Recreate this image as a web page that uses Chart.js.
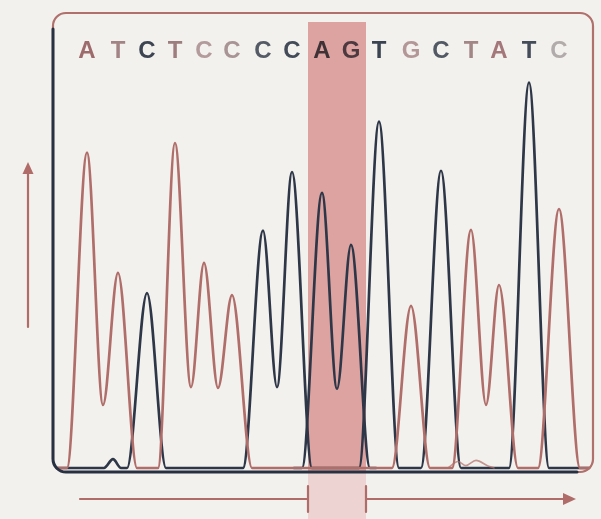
<!DOCTYPE html>
<html>
<head>
<meta charset="utf-8">
<script src="https://cdn.jsdelivr.net/npm/chart.js@4.4.1/dist/chart.umd.min.js"></script>
<style>
  html, body { margin: 0; padding: 0; background: #f3f1ed; }
  canvas { display: block; }
</style>
</head>
<body>
<canvas id="trace" width="601" height="519"></canvas>
<script>
// Called bases and where each peak sits on the scan axis
const bases = ["A", "T", "C", "T", "C", "C", "C", "C", "A", "G", "T", "G", "C", "T", "A", "T", "C"];
const peakScan = [87, 118, 147, 175, 204, 232, 263, 292, 322, 351, 379, 411, 441, 471, 499, 529, 559];
const baseColors = [
  "#9e6b6d", "#a38485", "#3d4553", "#9d7d7d", "#b39b9c", "#a99495", "#555b66", "#434b59",
  "#3e3236", "#4d3a40", "#3a4352", "#b39797", "#525964", "#a28585", "#a4777a", "#444c5a", "#b2abab",
];

// Highlighted region (scan positions)
const highlight = [308, 366];

// Signal traces: [scan, intensity]
const redTrace = [
  [57, 0], [67, 0], [87, 78.4], [103, 15.7], [118, 48.5], [137, 0],
  [158, 0], [175, 80.8], [191, 20.1], [204, 51.0], [218, 19.9], [232, 43.0], [252, 0],
  [392, 0], [411, 40.3], [430, 0],
  [452, 0], [471, 59.2], [486, 15.7], [499, 45.5], [518, 0],
  [538, 0], [559, 64.4], [580, 0], [589, 0],
];
const navyTrace = [
  [57, 0], [104, 0], [113, 2.2], [121, 0], [127, 0], [147, 43.5], [166, 0],
  [243, 0], [263, 59.0], [277, 20.1], [292, 73.6], [312, 0],
  [359, 0], [379, 86.1], [399, 0],
  [421, 0], [441, 73.9], [461, 0],
  [509, 0], [529, 95.8], [549, 0], [589, 0],
];
const navyTrace2 = [
  [294, 0], [302, 0], [322, 68.4], [337, 19.7], [351, 55.5], [370, 0], [376, 0],
];
const noiseTrace = [
  [448, 0], [458, 1.6], [466, 0.6], [476, 1.9], [488, 0.5], [494, 0],
];

const RED = "#b06e6a";
const NAVY = "#2e3748";

const toPoints = (arr) => arr.map(([x, y]) => ({ x, y }));

const traceStyle = (color, width) => ({
  borderColor: color,
  borderWidth: width,
  pointRadius: 0,
  fill: false,
  cubicInterpolationMode: "monotone",
  borderJoinStyle: "round",
  borderCapStyle: "round",
  clip: false,
});

// background, highlight band, frame and arrows
const decor = {
  id: "decor",
  beforeDraw(chart) {
    const { ctx } = chart;
    const x = chart.scales.x;
    const b0 = x.getPixelForValue(highlight[0]);
    const b1 = x.getPixelForValue(highlight[1]);
    ctx.save();
    ctx.fillStyle = "#f3f1ed";
    ctx.fillRect(0, 0, chart.width, chart.height);
    ctx.fillStyle = "#dda3a0";
    ctx.fillRect(b0, 22, b1 - b0, 450);
    ctx.fillStyle = "#edd4d2";
    ctx.fillRect(b0, 472, b1 - b0, 47);
    ctx.restore();
  },
  afterDatasetsDraw(chart) {
    const { ctx } = chart;
    const x = chart.scales.x;
    const b0 = x.getPixelForValue(highlight[0]);
    const b1 = x.getPixelForValue(highlight[1]);
    const L = 53, T = 13, R = 593, B = 472, r = 13;
    ctx.save();
    ctx.lineCap = "round";
    ctx.lineJoin = "round";

    // frame: top/right in red-brown
    ctx.strokeStyle = "#b0706c";
    ctx.lineWidth = 2.2;
    ctx.beginPath();
    ctx.moveTo(L, B - r);
    ctx.lineTo(L, T + r);
    ctx.arcTo(L, T, L + r, T, r);
    ctx.lineTo(R - r, T);
    ctx.arcTo(R, T, R, T + r, r);
    ctx.lineTo(R, B - r);
    ctx.arcTo(R, B, R - r, B, r);
    ctx.lineTo(L + r, B);
    ctx.stroke();

    // left and bottom in navy
    ctx.strokeStyle = "#283142";
    ctx.lineWidth = 3;
    ctx.beginPath();
    ctx.moveTo(L, T + 16);
    ctx.lineTo(L, B - r);
    ctx.arcTo(L, B, L + r, B, r);
    ctx.lineTo(R - 16, B);
    ctx.stroke();

    // left arrow
    ctx.strokeStyle = "#b06c68";
    ctx.fillStyle = "#b06c68";
    ctx.lineWidth = 2.2;
    ctx.beginPath();
    ctx.moveTo(28, 327);
    ctx.lineTo(28, 172);
    ctx.stroke();
    ctx.beginPath();
    ctx.moveTo(28, 162);
    ctx.lineTo(22.5, 174);
    ctx.lineTo(33.5, 174);
    ctx.closePath();
    ctx.fill();

    // bottom arrow with bracket around highlight
    const ay = 499;
    ctx.beginPath();
    ctx.moveTo(80, ay);
    ctx.lineTo(b0, ay);
    ctx.moveTo(b0, ay - 13);
    ctx.lineTo(b0, ay + 13);
    ctx.moveTo(b1, ay - 13);
    ctx.lineTo(b1, ay + 13);
    ctx.moveTo(b1, ay);
    ctx.lineTo(566, ay);
    ctx.stroke();
    ctx.beginPath();
    ctx.moveTo(576, ay);
    ctx.lineTo(563, ay - 6);
    ctx.lineTo(563, ay + 6);
    ctx.closePath();
    ctx.fill();
    ctx.restore();
  },
};

new Chart(document.getElementById("trace"), {
  type: "line",
  data: {
    datasets: [
      { data: toPoints(noiseTrace), ...traceStyle("rgba(176,110,106,0.7)", 1.6) },
      { data: toPoints(redTrace), ...traceStyle(RED, 2.7) },
      { data: toPoints(navyTrace), ...traceStyle(NAVY, 2.7) },
      { data: toPoints(navyTrace2), ...traceStyle(NAVY, 2.7) },
    ],
  },
  options: {
    responsive: false,
    animation: false,
    layout: { padding: { left: 57, right: 12, top: 37, bottom: 51 } },
    plugins: { legend: { display: false }, tooltip: { enabled: false } },
    scales: {
      x: {
        type: "linear",
        position: "top",
        min: 57,
        max: 589,
        grid: { display: false, drawTicks: false },
        border: { display: false },
        afterBuildTicks: (axis) => {
          axis.ticks = peakScan.map((v) => ({ value: v }));
        },
        ticks: {
          autoSkip: false,
          maxRotation: 0,
          padding: 0,
          font: { family: "Liberation Sans", size: 24, weight: "bold" },
          color: (ctx) => baseColors[ctx.index],
          callback: (value, index) => bases[index],
        },
      },
      y: {
        display: false,
        min: 0,
        max: 100,
      },
    },
  },
  plugins: [decor],
});
</script>
</body>
</html>
